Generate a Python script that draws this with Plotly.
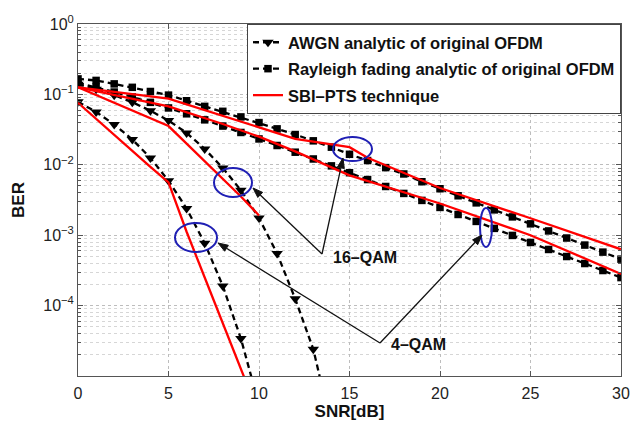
import math
import plotly.graph_objects as go

# ---------------- data ----------------
snr_awgn4 = [0, 1, 2, 3, 4, 5, 6, 7, 8, 9, 10]
ber_awgn4 = [0.0786, 0.0563, 0.0375, 0.0229, 0.0125, 0.00595, 0.00239, 7.7e-4, 1.9e-4, 3.4e-5, 3.9e-6]

snr_awgn16 = [0, 1, 2, 3, 4, 5, 6, 7, 8, 9, 10, 11, 12, 13, 14]
ber_awgn16 = [0.139, 0.118, 0.0974, 0.0775, 0.0587, 0.0425, 0.0284, 0.0168, 0.00903,
              0.00434, 0.00175, 5.5e-4, 1.25e-4, 2.4e-5, 1.9e-6]

snr_ray = list(range(0, 31))
ber_ray4 = [0.146, 0.127, 0.108, 0.0919, 0.0771, 0.0642, 0.0530, 0.0435, 0.0355, 0.0288,
            0.0233, 0.0188, 0.0151, 0.0121, 0.00966, 0.00772, 0.00617, 0.00492, 0.00392,
            0.00312, 0.00248, 0.00197, 0.00157, 0.00125, 0.000993, 0.000789, 0.000627,
            0.000498, 0.000396, 0.000315, 0.00025]
ber_ray16 = [0.166, 0.158, 0.141, 0.126, 0.110, 0.0977, 0.0813, 0.0676, 0.0575, 0.0479,
             0.0398, 0.0324, 0.0269, 0.0219, 0.0178, 0.0141, 0.0115, 0.00912, 0.00741,
             0.00575, 0.00457, 0.00363, 0.00288, 0.00229, 0.00182, 0.00145, 0.00115,
             0.000912, 0.000724, 0.000575, 0.000457]

snr_sbi_awgn4 = [0, 1, 2, 3, 4, 5, 6, 7, 8, 9, 10]
ber_sbi_awgn4 = [0.0759, 0.0447, 0.0263, 0.0158, 0.00933, 0.00562, 0.00112, 2.51e-4, 5.62e-5, 1.26e-5, 2.82e-6]

snr_sbi_awgn16 = [0, 1, 2, 3, 4, 5, 6, 7, 8, 9, 10]
ber_sbi_awgn16 = [0.126, 0.0977, 0.0759, 0.0589, 0.0457, 0.0355, 0.0200, 0.0112, 0.00631, 0.00355, 0.00191]

snr_sbi_ray16 = [0, 5, 12, 15, 16, 20, 25, 30]
ber_sbi_ray16 = [0.126, 0.0871, 0.0234, 0.0178, 0.0126, 0.00468, 0.00174, 0.00063]

snr_sbi_ray4 = [0, 5, 8, 10, 12, 15, 20, 25, 30]
ber_sbi_ray4 = [0.126, 0.0676, 0.0380, 0.0251, 0.0155, 0.00708, 0.00282, 0.0010, 0.000282]

x_ticks = [0, 5, 10, 15, 20, 25, 30]
y_ticks = [1, 0.1, 0.01, 0.001, 0.0001]
y_ticktext = ["10<sup>0</sup>", "10<sup>\u22121</sup>", "10<sup>\u22122</sup>",
              "10<sup>\u22123</sup>", "10<sup>\u22124</sup>"]

name_awgn = "AWGN analytic of original OFDM"
name_ray = "Rayleigh fading analytic of original OFDM"
name_sbi = "SBI\u2013PTS technique"

# ---------------- figure ----------------
W, H = 634, 423
L, R, T, B = 78, 13, 24, 47
PW, PH = W - L - R, H - T - B

def px(xp):
    return (xp - L) / PW

def py(yp):
    return (H - B - yp) / PH

BLACK = "#000000"
RED = "#ff0000"
DASH = "6px,4px"

fig = go.Figure()

def add(x, y, name, color, dash, symbol, size, show, group):
    fig.add_trace(go.Scatter(
        x=x, y=y, name=name, legendgroup=group, showlegend=show,
        mode="lines+markers" if symbol else "lines",
        line=dict(color=color, width=2.3, dash=dash),
        marker=dict(symbol=symbol or "circle", size=size, color=color,
                    line=dict(width=0)),
    ))

add(snr_awgn4, ber_awgn4, name_awgn, BLACK, DASH, "triangle-down", 10, True, "g1")
add(snr_awgn16, ber_awgn16, name_awgn, BLACK, DASH, "triangle-down", 10, False, "g1")
add(snr_ray, ber_ray4, name_ray, BLACK, DASH, "square", 7.5, True, "g2")
add(snr_ray, ber_ray16, name_ray, BLACK, DASH, "square", 7.5, False, "g2")
add(snr_sbi_awgn4, ber_sbi_awgn4, name_sbi, RED, "solid", None, 0, True, "g3")
add(snr_sbi_awgn16, ber_sbi_awgn16, name_sbi, RED, "solid", None, 0, False, "g3")
add(snr_sbi_ray16, ber_sbi_ray16, name_sbi, RED, "solid", None, 0, False, "g3")
add(snr_sbi_ray4, ber_sbi_ray4, name_sbi, RED, "solid", None, 0, False, "g3")

minor_vals = [m * 10 ** e for e in range(-5, 0) for m in range(2, 10)]

GRID = "#bdbdbd"
AXIS = "#555555"
FONT = "Arial, Liberation Sans, sans-serif"

fig.update_layout(
    width=W, height=H,
    margin=dict(l=L, r=R, t=T, b=B, autoexpand=False),
    paper_bgcolor="white", plot_bgcolor="white",
    font=dict(family=FONT, color="#111111"),
    showlegend=True,
    legend=dict(
        x=1, y=1, xanchor="right", yanchor="top",
        bgcolor="white", bordercolor="#444444", borderwidth=1,
        font=dict(family=FONT, size=16.5, color="#111111", weight="bold"),
        traceorder="grouped", tracegroupgap=2,
    ),
    xaxis=dict(
        range=[0, 30], tickmode="array", tickvals=x_ticks,
        ticks="inside", ticklen=5, tickcolor=AXIS,
        showline=True, linecolor=AXIS, linewidth=1, mirror="ticks",
        showgrid=True, gridcolor=GRID, griddash="dot", gridwidth=1,
        zeroline=False, ticklabelstandoff=3, automargin=False,
        tickfont=dict(family=FONT, size=16, color="#222222"),
        title=dict(text="<b>SNR[dB]</b>", font=dict(family=FONT, size=17, color="#111111"), standoff=2),
    ),
    yaxis=dict(
        type="log", range=[-5, 0], tickmode="array", tickvals=y_ticks, ticktext=y_ticktext,
        ticks="inside", ticklen=5, tickcolor=AXIS,
        showline=True, linecolor=AXIS, linewidth=1, mirror="ticks",
        showgrid=True, gridcolor=GRID, griddash="dot", gridwidth=1,
        zeroline=False, automargin=False,
        tickfont=dict(family=FONT, size=16, color="#222222"),
        title=dict(text="<b>BER</b>", font=dict(family=FONT, size=17, color="#111111"), standoff=14),
        minor=dict(tickmode="array", tickvals=minor_vals, ticks="inside", ticklen=3,
                   tickcolor=AXIS, showgrid=True, gridcolor="#d6d6d6", griddash="dot", gridwidth=1),
    ),
)

# blue ellipses (pixel positions of the reference)
ellipses = [(233, 182.5, 19, 14.5), (196, 237.5, 21, 14.5), (352.5, 149, 19.5, 12), (486, 227.5, 6, 19.5)]
for cx, cy, rx, ry in ellipses:
    fig.add_shape(type="circle", xref="paper", yref="paper",
                  x0=px(cx - rx), x1=px(cx + rx), y0=py(cy + ry), y1=py(cy - ry),
                  line=dict(color="#1f1fb4", width=2))

# arrows (vertex -> target), drawn as a line plus a filled head
arrows = [((322, 254), (253, 188)), ((322, 254), (343, 158)),
          ((380, 343), (218, 243)), ((380, 343), (482, 235))]
HEAD_L, HEAD_W = 10, 3.5
for (vx, vy), (tx, ty) in arrows:
    dx, dy = tx - vx, ty - vy
    d = math.hypot(dx, dy)
    ux, uy = dx / d, dy / d
    bx, by = tx - ux * HEAD_L, ty - uy * HEAD_L
    nx, ny = -uy, ux
    fig.add_shape(type="line", xref="paper", yref="paper",
                  x0=px(vx), y0=py(vy), x1=px(bx), y1=py(by),
                  line=dict(color="#111111", width=1.3))
    p1 = (bx + nx * HEAD_W, by + ny * HEAD_W)
    p2 = (bx - nx * HEAD_W, by - ny * HEAD_W)
    path = "M {:.5f} {:.5f} L {:.5f} {:.5f} L {:.5f} {:.5f} Z".format(
        px(tx), py(ty), px(p1[0]), py(p1[1]), px(p2[0]), py(p2[1]))
    fig.add_shape(type="path", xref="paper", yref="paper", path=path,
                  fillcolor="#111111", line=dict(color="#111111", width=1))

fig.add_annotation(xref="paper", yref="paper", x=px(365), y=py(268), text="<b>16\u2013QAM</b>",
                   showarrow=False, font=dict(family=FONT, size=16, color="#111111"))
fig.add_annotation(xref="paper", yref="paper", x=px(418), y=py(355), text="<b>4\u2013QAM</b>",
                   showarrow=False, font=dict(family=FONT, size=16, color="#111111"))

fig.write_html("out.html")
